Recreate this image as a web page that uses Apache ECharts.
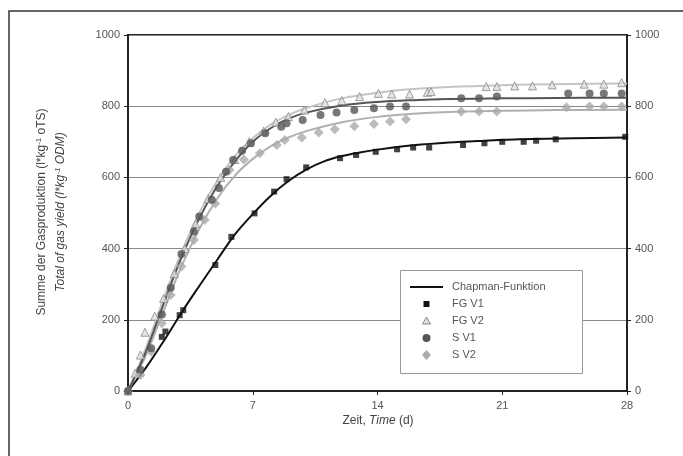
<!DOCTYPE html>
<html>
<head>
<meta charset="utf-8">
<script src="https://cdn.jsdelivr.net/npm/echarts@6/dist/echarts.min.js"></script>
<style>
html, body { margin: 0; padding: 0; background: #fff; }
#main { width: 683px; height: 456px; }
</style>
</head>
<body>
<div id="main"></div>
<script>
// Messpunkte [Tag, l/kg oTS]
var fgV1 = [[0,0],[1.9,152],[2.1,167],[2.9,213],[3.1,227],[4.9,354],[5.8,433],[7.1,499],[8.2,560],[8.9,595],[10.0,628],[11.9,654],[12.8,663],[13.9,672],[15.1,679],[16.0,684],[16.9,684],[18.8,691],[20.0,696],[21.0,700],[22.2,700],[22.9,703],[24.0,707],[27.9,714]];
var fgV2 = [[0,0],[0.4,50],[0.7,101],[0.95,165],[1.5,210],[2.0,260],[2.6,330],[3.2,400],[3.8,470],[4.5,540],[5.2,600],[6.0,650],[6.8,700],[7.6,730],[8.3,755],[9.0,771],[9.9,789],[11.05,810],[12.0,816],[13.0,827],[14.05,836],[14.8,834],[15.8,834],[16.8,839],[17.0,841],[20.1,855],[20.7,855],[21.7,857],[22.7,857],[23.8,860],[25.6,862],[26.7,862],[27.7,866]];
var sV1 = [[0,0],[0.7,60],[1.3,120],[1.9,215],[2.4,290],[3.0,385],[3.7,448],[4.0,490],[4.7,537],[5.1,570],[5.5,616],[5.9,649],[6.4,675],[6.9,696],[7.7,724],[8.6,742],[8.9,752],[9.8,761],[10.8,775],[11.7,782],[12.7,789],[13.8,794],[14.7,799],[15.6,799],[18.7,822],[19.7,822],[20.7,827],[24.7,836],[25.9,836],[26.7,836],[27.7,836]];
var sV2 = [[0,0],[0.7,45],[1.3,110],[1.9,190],[2.4,270],[3.0,350],[3.7,424],[4.3,480],[4.9,527],[5.7,621],[6.5,650],[7.4,668],[8.35,691],[8.8,705],[9.75,712],[10.7,726],[11.6,735],[12.7,744],[13.8,750],[14.7,757],[15.6,763],[18.7,785],[19.7,785],[20.7,785],[24.6,797],[25.9,799],[26.7,799],[27.7,799]];

var fitFgV1 = [[0,0],[1,65],[2,140],[3,220],[4,295],[5,368],[6,440],[7,497],[8,548],[9,590],[10,622],[11,645],[12,660],[13,670],[14,678],[16,690],[18,698],[20,703],[22,707],[25,710],[28,712]];
var fitFgV2 = [[0,0],[1,120],[2,260],[3,390],[4,500],[5,590],[6,660],[7,710],[8,748],[9,775],[10,795],[12,822],[14,838],[16,848],[18,854],[21,859],[24,862],[28,864]];
var fitSV1 = [[0,0],[1,110],[2,245],[3,375],[4,485],[5,575],[6,645],[7,700],[8,738],[9,765],[10,782],[12,802],[14,812],[16,817],[18,820],[21,822],[24,823],[28,824]];
var fitSV2 = [[0,0],[1,100],[2,225],[3,350],[4,455],[5,540],[6,605],[7,652],[8,687],[9,712],[10,730],[12,755],[14,770],[16,779],[18,784],[21,787],[24,789],[28,790]];

var legendNames = ['Chapman-Funktion', 'FG V1', 'FG V2', 'S V1', 'S V2'];

var FONT = 'Liberation Sans, Arial, sans-serif';

var myChart = echarts.init(document.getElementById('main'));

function fitLine(data, color, width) {
  return {
    name: 'Chapman-Funktion',
    type: 'line',
    data: data,
    smooth: 0.35,
    symbol: 'none',
    lineStyle: { color: color, width: width },
    itemStyle: { color: color },
    z: 2
  };
}
function points(name, data, symbol, size, color, border) {
  return {
    name: name,
    type: 'scatter',
    data: data,
    symbol: symbol,
    symbolSize: size,
    itemStyle: { color: color, borderColor: border || color, borderWidth: border ? 1 : 0 },
    z: 3
  };
}

var yAxisCommon = {
  type: 'value',
  min: 0,
  max: 1000,
  interval: 200,
  axisLine: { show: true, lineStyle: { color: '#222', width: 2 } },
  axisTick: { show: true, length: 4, lineStyle: { color: '#222' } },
  axisLabel: { color: '#555', fontFamily: FONT, fontSize: 11, margin: 8, formatter: function (v) { return String(v); } }
};

// Legende von Hand (Box 400..582 x 270..373)
var lg = { x: 400, y: 270, w: 182, h: 103, iconX: 426.5, textX: 452, rows: [287, 304, 321, 338, 355] };
var legendGraphics = [
  { type: 'rect', shape: { x: lg.x + 0.5, y: lg.y + 0.5, width: lg.w, height: lg.h }, style: { fill: '#fff', stroke: '#999', lineWidth: 1 }, z: 10 },
  { type: 'line', shape: { x1: 410, y1: lg.rows[0], x2: 443, y2: lg.rows[0] }, style: { stroke: '#111', lineWidth: 2 }, z: 11 },
  { type: 'rect', shape: { x: lg.iconX - 3, y: lg.rows[1] - 3, width: 6, height: 6 }, style: { fill: '#111' }, z: 11 },
  { type: 'polygon', shape: { points: [[lg.iconX, lg.rows[2] - 4], [lg.iconX + 4, lg.rows[2] + 3], [lg.iconX - 4, lg.rows[2] + 3]] }, style: { fill: '#e0e0e0', stroke: '#8a8a8a', lineWidth: 1 }, z: 11 },
  { type: 'circle', shape: { cx: lg.iconX, cy: lg.rows[3], r: 4 }, style: { fill: '#555' }, z: 11 },
  { type: 'polygon', shape: { points: [[lg.iconX, lg.rows[4] - 5], [lg.iconX + 4.5, lg.rows[4]], [lg.iconX, lg.rows[4] + 5], [lg.iconX - 4.5, lg.rows[4]]] }, style: { fill: '#aaa' }, z: 11 }
];
legendNames.forEach(function (n, i) {
  legendGraphics.push({
    type: 'text', x: lg.textX, y: lg.rows[i], z: 11,
    style: { text: n, fontFamily: FONT, fontSize: 11, fill: '#555', verticalAlign: 'middle' }
  });
});

option = {
  animation: false,
  backgroundColor: '#fff',
  grid: { left: 128, right: 56, top: 35, bottom: 65, show: true, borderColor: '#222', borderWidth: 2 },
  legend: { show: false, data: legendNames },
  xAxis: {
    type: 'value',
    min: 0,
    max: 28,
    interval: 7,
    splitLine: { show: false },
    axisLine: { show: true, lineStyle: { color: '#222', width: 2 } },
    axisTick: { show: true, length: 4, lineStyle: { color: '#222' } },
    axisLabel: { color: '#555', fontFamily: FONT, fontSize: 11, margin: 9 }
  },
  yAxis: [
    Object.assign({}, yAxisCommon, {
      position: 'left',
      splitLine: { show: true, lineStyle: { color: '#888', width: 1 } }
    }),
    Object.assign({}, yAxisCommon, {
      position: 'right',
      splitLine: { show: false }
    })
  ],
  graphic: [
    // äußerer Rahmen
    { type: 'polyline', shape: { points: [[9, 456], [9, 11], [683, 11]] }, style: { stroke: '#333', lineWidth: 1.5, fill: null } },
    {
      type: 'text', x: 42, y: 212, rotation: Math.PI / 2,
      style: {
        text: '{n|Summe der Gasproduktion (l*kg}{s|-1}{n| oTS)}',
        align: 'center', verticalAlign: 'middle',
        rich: {
          n: { fontFamily: FONT, fontSize: 12, fill: '#444' },
          s: { fontFamily: FONT, fontSize: 8, fill: '#444', verticalAlign: 'top', padding: [0, 0, 6, 0] }
        }
      }
    },
    {
      type: 'text', x: 61, y: 212, rotation: Math.PI / 2,
      style: {
        text: '{n|Total of gas yield (l*kg}{s|-1}{n| ODM)}',
        align: 'center', verticalAlign: 'middle',
        rich: {
          n: { fontFamily: FONT, fontSize: 12, fontStyle: 'italic', fill: '#444' },
          s: { fontFamily: FONT, fontSize: 8, fontStyle: 'italic', fill: '#444', verticalAlign: 'top', padding: [0, 0, 6, 0] }
        }
      }
    },
    {
      type: 'text', x: 378, y: 421,
      style: {
        text: '{n|Zeit, }{i|Time}{n| (d)}',
        align: 'center', verticalAlign: 'middle',
        rich: {
          n: { fontFamily: FONT, fontSize: 12, fill: '#444' },
          i: { fontFamily: FONT, fontSize: 12, fontStyle: 'italic', fill: '#444' }
        }
      }
    }
  ].concat(legendGraphics),
  series: [
    fitLine(fitFgV1, '#111', 2),
    fitLine(fitFgV2, '#c4c4c4', 2),
    fitLine(fitSV2, '#b0b0b0', 2),
    fitLine(fitSV1, '#555', 2),
    points('FG V1', fgV1, 'rect', 6, '#111'),
    points('FG V2', fgV2, 'triangle', 8, '#e0e0e0', '#8a8a8a'),
    points('S V2', sV2, 'diamond', 10, '#aaa'),
    points('S V1', sV1, 'circle', 8, '#555')
  ]
};

myChart.setOption(option);
</script>
</body>
</html>
